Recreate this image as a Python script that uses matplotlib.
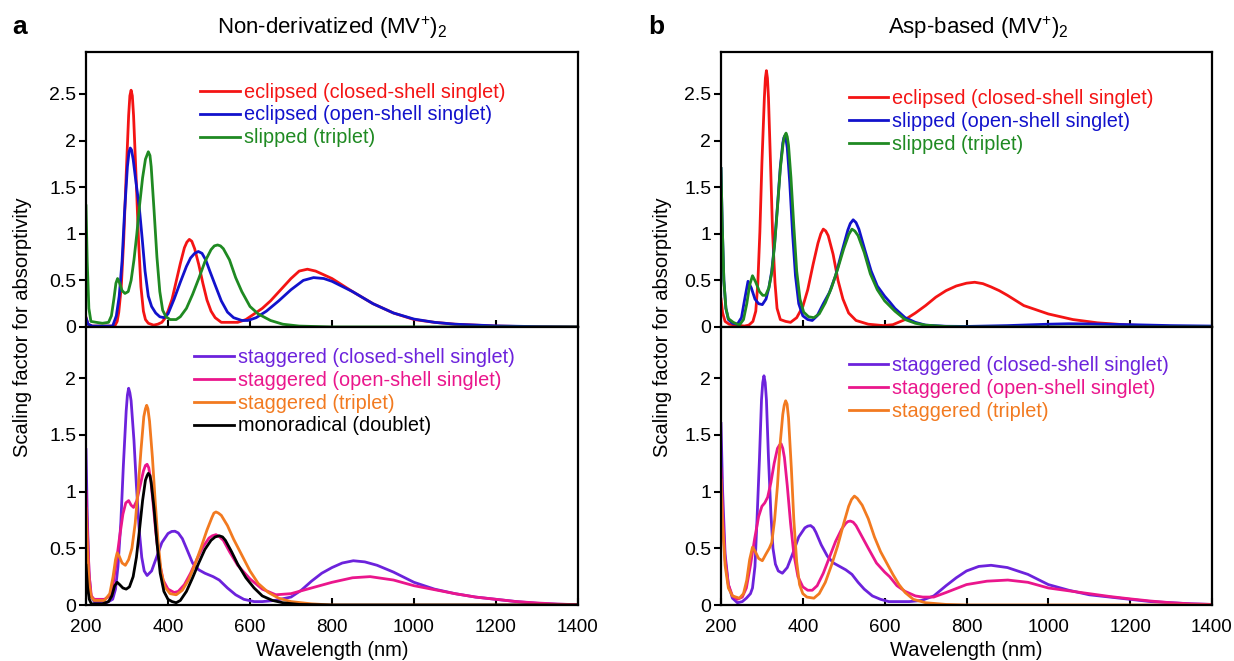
"""Simulated absorption spectra of (MV+)2 dimers, panels a and b."""

import matplotlib

matplotlib.use("Agg")
import matplotlib.pyplot as plt
from matplotlib.ticker import FormatStrFormatter, MultipleLocator

plt.rcParams["font.family"] = ["Liberation Sans", "DejaVu Sans"]
plt.rcParams["mathtext.fontset"] = "custom"
plt.rcParams["mathtext.rm"] = "Liberation Sans"
plt.rcParams["mathtext.it"] = "Liberation Sans:italic"

# ---- panel a, top: non-derivatized, eclipsed / slipped ----
a_ecl_cs_nm = [200, 205, 215, 270, 276, 280, 286, 292, 298, 304, 307, 310, 313, 316, 322, 328, 334, 340,
               345, 352, 365, 375, 385, 392, 400, 410, 420, 430, 440, 446, 452, 458, 465, 475, 485, 495,
               505, 515, 530, 550, 570, 590, 610, 630, 650, 675, 700, 720, 740, 760, 800, 850, 900, 950,
               1000, 1050, 1100, 1200, 1300, 1400]
a_ecl_cs = [0.10, 0.03, 0.01, 0.01, 0.06, 0.16, 0.43, 0.94, 1.63, 2.27, 2.48, 2.54, 2.48, 2.27, 1.63, 0.94,
            0.43, 0.17, 0.08, 0.04, 0.02, 0.03, 0.05, 0.09, 0.17, 0.30, 0.49, 0.68, 0.85, 0.91, 0.94, 0.92,
            0.84, 0.67, 0.47, 0.29, 0.17, 0.10, 0.05, 0.05, 0.05, 0.08, 0.14, 0.20, 0.28, 0.40, 0.52, 0.60,
            0.62, 0.60, 0.52, 0.38, 0.25, 0.15, 0.08, 0.05, 0.03, 0.01, 0.003, 0.0]

a_ecl_os_nm = [200, 205, 215, 265, 274, 281, 288, 294, 301, 305, 308, 311, 315, 322, 330, 337, 344, 352,
               360, 370, 380, 390, 400, 415, 430, 445, 455, 465, 474, 483, 492, 502, 515, 530, 545, 560,
               580, 595, 615, 640, 670, 700, 730, 755, 780, 800, 850, 900, 950, 1000, 1050, 1100, 1200,
               1300, 1400]
a_ecl_os = [0.10, 0.03, 0.01, 0.01, 0.12, 0.33, 0.71, 1.23, 1.72, 1.88, 1.92, 1.90, 1.80, 1.55, 1.28, 0.95,
            0.60, 0.33, 0.22, 0.15, 0.11, 0.10, 0.14, 0.30, 0.48, 0.65, 0.74, 0.79, 0.81, 0.79, 0.72, 0.60,
            0.45, 0.28, 0.16, 0.10, 0.07, 0.07, 0.10, 0.17, 0.28, 0.40, 0.50, 0.53, 0.52, 0.49, 0.38, 0.25,
            0.15, 0.085, 0.05, 0.03, 0.012, 0.004, 0.0]

a_slip_t_nm = [200, 203, 207, 212, 225, 240, 255, 262, 268, 273, 277, 282, 288, 295, 303, 310, 317, 324,
               330, 338, 345, 352, 356, 359, 366, 373, 380, 387, 395, 405, 420, 430, 445, 460, 475, 490,
               505, 513, 521, 528, 535, 550, 565, 580, 600, 620, 650, 680, 720, 800, 1400]
a_slip_t = [1.3, 0.7, 0.2, 0.06, 0.05, 0.04, 0.05, 0.12, 0.3, 0.47, 0.52, 0.47, 0.39, 0.36, 0.38, 0.5,
            0.72, 1.0, 1.28, 1.6, 1.8, 1.88, 1.84, 1.72, 1.25, 0.75, 0.38, 0.18, 0.11, 0.08, 0.08, 0.11,
            0.2, 0.35, 0.52, 0.7, 0.83, 0.87, 0.88, 0.87, 0.84, 0.72, 0.53, 0.38, 0.22, 0.14, 0.07, 0.03,
            0.01, 0.0, 0.0]

# ---- panel a, bottom: staggered + monoradical ----
a_stag_cs_nm = [200, 203, 207, 212, 220, 250, 265, 272, 278, 285, 291, 298, 301, 304, 307, 310, 317, 323,
                330, 336, 342, 349, 360, 372, 385, 400, 409, 417, 425, 435, 445, 460, 475, 490, 510, 525,
                545, 565, 585, 610, 630, 660, 700, 725, 750, 775, 800, 825, 852, 880, 910, 950, 1000,
                1050, 1100, 1150, 1200, 1250, 1300, 1350, 1400]
a_stag_cs = [1.37, 0.8, 0.3, 0.08, 0.03, 0.02, 0.05, 0.14, 0.34, 0.73, 1.22, 1.71, 1.85, 1.91, 1.87, 1.8,
             1.45, 1.05, 0.65, 0.42, 0.3, 0.26, 0.3, 0.42, 0.55, 0.63, 0.648, 0.65, 0.635, 0.585, 0.5, 0.37,
             0.31, 0.28, 0.25, 0.22, 0.15, 0.09, 0.05, 0.03, 0.03, 0.04, 0.07, 0.13, 0.21, 0.28, 0.33,
             0.37, 0.39, 0.38, 0.35, 0.29, 0.2, 0.14, 0.1, 0.07, 0.05, 0.03, 0.015, 0.007, 0.003]

a_stag_os_nm = [200, 204, 208, 213, 220, 245, 258, 266, 274, 282, 290, 297, 304, 310, 316, 324, 332, 340,
                345, 349, 353, 358, 363, 370, 378, 388, 400, 415, 425, 440, 455, 470, 485, 500, 508, 517,
                526, 535, 550, 570, 600, 630, 663, 700, 750, 800, 850, 893, 950, 1000, 1050, 1100, 1150,
                1200, 1250, 1300, 1350, 1400]
a_stag_os = [1.0, 0.6, 0.25, 0.08, 0.05, 0.05, 0.08, 0.18, 0.38, 0.6, 0.8, 0.9, 0.92, 0.88, 0.86, 0.92,
             1.05, 1.18, 1.23, 1.24, 1.21, 1.1, 0.92, 0.65, 0.4, 0.22, 0.14, 0.11, 0.12, 0.18, 0.28, 0.4,
             0.51, 0.59, 0.61, 0.62, 0.6, 0.57, 0.47, 0.35, 0.23, 0.14, 0.09, 0.1, 0.15, 0.2, 0.24, 0.25,
             0.22, 0.17, 0.135, 0.1, 0.07, 0.05, 0.03, 0.018, 0.008, 0.003]

a_stag_t_nm = [200, 204, 208, 213, 220, 245, 258, 266, 272, 276, 281, 288, 296, 304, 312, 320, 327, 334,
               341, 345, 348, 351, 355, 362, 369, 376, 383, 392, 405, 420, 435, 450, 465, 480, 495, 507,
               512, 517, 523, 530, 545, 560, 580, 600, 620, 645, 670, 700, 750, 800, 1400]
a_stag_t = [0.85, 0.45, 0.18, 0.07, 0.04, 0.04, 0.1, 0.25, 0.4, 0.46, 0.43, 0.37, 0.35, 0.4, 0.5, 0.72,
            1.02, 1.36, 1.66, 1.73, 1.76, 1.73, 1.62, 1.3, 0.9, 0.55, 0.3, 0.16, 0.1, 0.09, 0.13, 0.22,
            0.35, 0.5, 0.66, 0.77, 0.81, 0.82, 0.81, 0.79, 0.7, 0.58, 0.44, 0.3, 0.19, 0.11, 0.06, 0.03,
            0.01, 0.0, 0.0]

a_mono_nm = [200, 204, 208, 213, 240, 255, 263, 270, 276, 282, 290, 298, 306, 315, 323, 331, 338, 345,
             349, 352, 356, 359, 366, 373, 381, 390, 400, 410, 420, 430, 445, 460, 475, 490, 505, 515,
             525, 533, 540, 555, 570, 590, 610, 630, 655, 680, 720, 800, 1400]
a_mono = [0.35, 0.15, 0.05, 0.01, 0.01, 0.03, 0.08, 0.17, 0.2, 0.18, 0.15, 0.14, 0.16, 0.25, 0.42, 0.68,
          0.92, 1.1, 1.14, 1.16, 1.14, 1.08, 0.85, 0.55, 0.28, 0.12, 0.05, 0.03, 0.02, 0.04, 0.12, 0.24,
          0.37, 0.49, 0.57, 0.6, 0.61, 0.6, 0.57, 0.47, 0.36, 0.24, 0.15, 0.08, 0.04, 0.02, 0.005, 0.0, 0.0]

# ---- panel b, top: Asp-based, eclipsed / slipped ----
b_ecl_cs_nm = [200, 204, 210, 220, 240, 257, 268, 278, 285, 290, 295, 300, 306, 308.5, 311, 313.5, 316,
               321, 326, 332, 337, 345, 358, 370, 385, 400, 412, 425, 437, 444, 450, 456, 462, 474, 486,
               498, 512, 530, 560, 597, 620, 650, 675, 700, 725, 750, 775, 800, 820, 840, 860, 880, 900,
               940, 1000, 1060, 1120, 1200, 1300, 1400]
b_ecl_cs = [0.3, 0.15, 0.06, 0.03, 0.02, 0.01, 0.02, 0.06, 0.17, 0.47, 1.02, 1.76, 2.46, 2.67, 2.75, 2.67,
            2.46, 1.76, 1.02, 0.47, 0.2, 0.08, 0.06, 0.05, 0.1, 0.22, 0.4, 0.67, 0.9, 1.0, 1.05, 1.03, 0.98,
            0.78, 0.5, 0.3, 0.15, 0.07, 0.03, 0.015, 0.025, 0.08, 0.15, 0.23, 0.32, 0.39, 0.44, 0.47, 0.48,
            0.465, 0.43, 0.39, 0.34, 0.23, 0.14, 0.08, 0.045, 0.02, 0.006, 0.002]

b_slip_os_nm = [200, 203, 207, 212, 218, 228, 240, 250, 258, 266, 274, 283, 292, 301, 310, 317, 324, 331,
                338, 345, 351, 353.5, 356, 359, 362, 368, 375, 382, 390, 400, 412, 423, 435, 450, 465,
                480, 495, 510, 516, 523, 530, 537, 552, 567, 582, 600, 612, 625, 650, 675, 700, 750, 800,
                900, 1000, 1050, 1100, 1200, 1300, 1400]
b_slip_os = [1.7, 1.1, 0.5, 0.2, 0.08, 0.04, 0.03, 0.1, 0.3, 0.49, 0.42, 0.3, 0.25, 0.24, 0.3, 0.42, 0.6,
             0.9, 1.3, 1.72, 1.97, 2.03, 2.05, 2.01, 1.92, 1.55, 1.0, 0.55, 0.25, 0.12, 0.08, 0.07, 0.12,
             0.25, 0.37, 0.55, 0.8, 1.04, 1.11, 1.15, 1.12, 1.05, 0.82, 0.6, 0.44, 0.33, 0.27, 0.2, 0.1,
             0.05, 0.02, 0.008, 0.006, 0.015, 0.03, 0.035, 0.033, 0.025, 0.015, 0.01]

b_slip_t_nm = [200, 203, 207, 212, 218, 230, 245, 255, 263, 270, 277, 285, 294, 302, 309, 317, 324, 331,
               338, 345, 352, 355.5, 359, 362, 365, 371, 378, 385, 393, 402, 414, 427, 440, 455, 470, 485,
               500, 512, 520, 527, 535, 550, 565, 582, 600, 625, 650, 675, 700, 750, 800, 1400]
b_slip_t = [1.7, 1.1, 0.5, 0.2, 0.09, 0.05, 0.02, 0.08, 0.25, 0.45, 0.55, 0.48, 0.38, 0.34, 0.34, 0.42,
            0.58, 0.88, 1.28, 1.7, 1.98, 2.05, 2.08, 2.04, 1.95, 1.6, 1.08, 0.6, 0.3, 0.16, 0.11, 0.1, 0.14,
            0.26, 0.42, 0.62, 0.84, 0.99, 1.05, 1.03, 0.98, 0.8, 0.57, 0.4, 0.28, 0.17, 0.08, 0.04, 0.02,
            0.005, 0.0, 0.0]

# ---- panel b, bottom: staggered ----
b_stag_cs_nm = [200, 204, 210, 218, 228, 240, 252, 262, 272, 277, 283, 288, 294, 299, 302, 305, 308, 311,
                316, 322, 327, 333, 340, 350, 362, 375, 390, 405, 412, 419, 426, 432, 445, 460, 475, 490,
                505, 520, 535, 550, 570, 590, 610, 630, 660, 690, 720, 750, 775, 800, 830, 860, 900, 950,
                1000, 1050, 1100, 1150, 1200, 1250, 1300, 1350, 1400]
b_stag_cs = [1.6, 1.0, 0.45, 0.18, 0.06, 0.02, 0.03, 0.06, 0.1, 0.15, 0.34, 0.75, 1.29, 1.81, 1.96, 2.02,
             1.96, 1.81, 1.3, 0.8, 0.5, 0.36, 0.3, 0.28, 0.33, 0.45, 0.6, 0.68, 0.695, 0.7, 0.68, 0.64,
             0.53, 0.43, 0.37, 0.34, 0.31, 0.27, 0.2, 0.14, 0.08, 0.05, 0.03, 0.03, 0.03, 0.04, 0.08, 0.17,
             0.24, 0.3, 0.34, 0.35, 0.33, 0.27, 0.18, 0.13, 0.09, 0.07, 0.05, 0.03, 0.02, 0.01, 0.005]

b_stag_os_nm = [200, 204, 210, 218, 228, 240, 252, 262, 272, 282, 292, 300, 307, 314, 322, 330, 338, 343,
                347, 351, 355, 362, 370, 378, 388, 400, 412, 423, 435, 450, 465, 480, 495, 505, 510, 516,
                523, 530, 545, 560, 580, 600, 612, 630, 650, 675, 693, 720, 750, 800, 850, 901, 950, 1000,
                1050, 1100, 1150, 1200, 1250, 1300, 1350, 1400]
b_stag_os = [1.2, 0.8, 0.4, 0.18, 0.08, 0.05, 0.07, 0.15, 0.35, 0.58, 0.78, 0.87, 0.9, 0.95, 1.08, 1.25,
             1.38, 1.41, 1.42, 1.38, 1.3, 1.05, 0.72, 0.45, 0.25, 0.16, 0.13, 0.13, 0.17, 0.28, 0.42, 0.56,
             0.67, 0.72, 0.735, 0.74, 0.73, 0.7, 0.6, 0.5, 0.37, 0.29, 0.25, 0.17, 0.12, 0.08, 0.07, 0.07,
             0.11, 0.18, 0.21, 0.22, 0.2, 0.15, 0.125, 0.1, 0.075, 0.054, 0.035, 0.02, 0.01, 0.005]

b_stag_t_nm = [200, 204, 210, 218, 228, 245, 255, 263, 270, 277, 284, 292, 301, 310, 318, 324, 331, 338,
               344, 351, 354.5, 358, 361.5, 365, 372, 378, 385, 392, 400, 410, 427, 440, 455, 470, 485,
               500, 512, 519, 526, 533, 545, 560, 575, 590, 605, 620, 635, 650, 670, 700, 750, 800, 1400]
b_stag_t = [1.1, 0.7, 0.35, 0.15, 0.08, 0.06, 0.1, 0.22, 0.4, 0.51, 0.47, 0.41, 0.39, 0.45, 0.5, 0.55,
            0.75, 1.05, 1.4, 1.68, 1.76, 1.8, 1.77, 1.65, 1.2, 0.75, 0.38, 0.18, 0.1, 0.07, 0.06, 0.1, 0.2,
            0.35, 0.52, 0.72, 0.87, 0.93, 0.96, 0.94, 0.88, 0.76, 0.6, 0.47, 0.37, 0.27, 0.18, 0.11, 0.05,
            0.02, 0.005, 0.0, 0.0]

RED = "#f41414"
BLUE = "#1212cc"
GREEN = "#1f8a22"
PURPLE = "#6c22dc"
PINK = "#ea168c"
ORANGE = "#f27a20"
BLACK = "#000000"

panels = {
    "a": {
        "title": "Non-derivatized (MV$^{+}$)$_2$",
        "top": [("eclipsed (closed-shell singlet)", a_ecl_cs_nm, a_ecl_cs, RED),
                ("eclipsed (open-shell singlet)", a_ecl_os_nm, a_ecl_os, BLUE),
                ("slipped (triplet)", a_slip_t_nm, a_slip_t, GREEN)],
        "bottom": [("staggered (closed-shell singlet)", a_stag_cs_nm, a_stag_cs, PURPLE),
                   ("staggered (open-shell singlet)", a_stag_os_nm, a_stag_os, PINK),
                   ("staggered (triplet)", a_stag_t_nm, a_stag_t, ORANGE),
                   ("monoradical (doublet)", a_mono_nm, a_mono, BLACK)],
    },
    "b": {
        "title": "Asp-based (MV$^{+}$)$_2$",
        "top": [("eclipsed (closed-shell singlet)", b_ecl_cs_nm, b_ecl_cs, RED),
                ("slipped (open-shell singlet)", b_slip_os_nm, b_slip_os, BLUE),
                ("slipped (triplet)", b_slip_t_nm, b_slip_t, GREEN)],
        "bottom": [("staggered (closed-shell singlet)", b_stag_cs_nm, b_stag_cs, PURPLE),
                   ("staggered (open-shell singlet)", b_stag_os_nm, b_stag_os, PINK),
                   ("staggered (triplet)", b_stag_t_nm, b_stag_t, ORANGE)],
    },
}

W, H = 1234, 661
fig = plt.figure(figsize=(W / 100, H / 100), dpi=100)

# pixel layout: (left, right) of each panel, shared rows
cols = {"a": (86, 578), "b": (721, 1212)}
row_top, row_mid, row_bot = 52, 327, 605
legend_anchor = {"a": ((0.232, 0.889), (0.220, 0.926)), "b": ((0.260, 0.866), (0.260, 0.896))}
letter_x = {"a": 20, "b": 656}
ylabel_x = {"a": 23, "b": 662}
title_x = {"a": 332, "b": 978}


def style_axis(ax, ymax):
    ax.set_xlim(200, 1400)
    ax.set_ylim(0, ymax)
    ax.xaxis.set_major_locator(MultipleLocator(200))
    ax.yaxis.set_major_locator(MultipleLocator(0.5))
    ax.yaxis.set_major_formatter(FormatStrFormatter("%g"))
    ax.tick_params(axis="x", direction="in", length=5, width=1.5, labelsize=13.5, pad=10)
    ax.tick_params(axis="y", direction="out", length=5, width=1.5, labelsize=14, pad=2)
    for sp in ax.spines.values():
        sp.set_linewidth(1.6)


for key, spec in panels.items():
    x0, x1 = cols[key]
    left, width = x0 / W, (x1 - x0) / W
    ax_top = fig.add_axes([left, 1 - row_mid / H, width, (row_mid - row_top) / H])
    ax_bot = fig.add_axes([left, 1 - row_bot / H, width, (row_bot - row_mid) / H])

    for ax, series, ymax, anchor in ((ax_top, spec["top"], 2.95, legend_anchor[key][0]),
                                     (ax_bot, spec["bottom"], 2.45, legend_anchor[key][1])):
        for label, nm, val, color in series:
            ax.plot(nm, val, color=color, lw=2.0, label=label)
        style_axis(ax, ymax)
        ax.legend(loc="upper left", bbox_to_anchor=anchor, frameon=False, fontsize=14.3,
                  handlelength=2.0, handletextpad=0.2, labelspacing=0.2, borderpad=0,
                  borderaxespad=0, labelcolor="linecolor")

    ax_top.tick_params(axis="x", labelbottom=False)
    ax_bot.set_xlabel("Wavelength (nm)", fontsize=14.5, labelpad=4)

    fig.text(title_x[key] / W, 1 - 28 / H, spec["title"], ha="center", va="center", fontsize=16)
    fig.text(letter_x[key] / W, 1 - 27 / H, key, ha="center", va="center", fontsize=19, fontweight="bold")
    fig.text(ylabel_x[key] / W, 1 - row_mid / H, "Scaling factor for absorptivity",
             ha="center", va="center", rotation=90, fontsize=14.5)

fig.savefig("out.png", dpi=100)
